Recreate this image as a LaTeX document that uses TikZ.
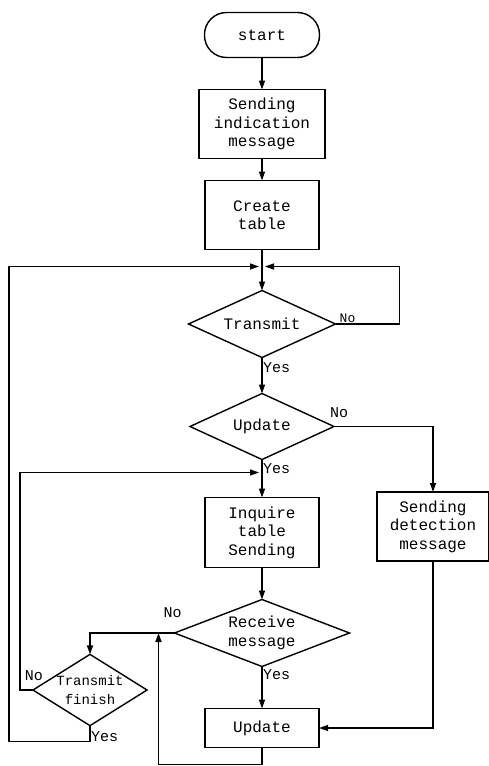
\documentclass[tikz,border=0pt]{standalone}
\usepackage{fontspec}
\setmonofont{Liberation Mono}
\usetikzlibrary{shapes.geometric, arrows.meta, positioning}
\tikzset{
	block/.style = {draw, rectangle, line width=1.4pt, outer sep=0pt, minimum width=114pt, minimum height=69pt, align=center, inner sep=1pt, font=\fontsize{16}{18.5}\selectfont\ttfamily},
	term/.style = {block, rounded corners=22pt, minimum width=115pt, minimum height=45pt},
	decision/.style = {draw, diamond, aspect=2.2, line width=1.4pt, outer sep=0pt, inner sep=0pt, align=center, font=\fontsize{16}{18.5}\selectfont\ttfamily},
	arrow/.style = {-{Triangle[length=9pt,width=6pt]}, line width=1.4pt},
	lbl/.style = {inner sep=1pt, font=\fontsize{15}{15}\selectfont\ttfamily},
}

\begin{document}
\begin{tikzpicture}[node distance=32pt]
	\useasboundingbox (0,0) rectangle (489pt,-766pt);
	
	% Main column
	\node[term] (start) at (262pt,-35pt) {start};
	\node[block, below=32pt of start, minimum width=126pt] (ind) {Sending\\indication\\message};
	\node[block, below=22pt of ind] (create) {Create\\table};
	\node[decision, below=41pt of create, minimum width=147pt, minimum height=67pt] (trans) {Transmit};
	\node[decision, below=36pt of trans, minimum width=144pt, minimum height=66pt] (upd) {Update};
	\node[block, below=38pt of upd, minimum height=70pt] (inq) {Inquire\\table\\Sending};
	\node[decision, below=32pt of inq, minimum width=175pt, minimum height=67pt] (recv) {Receive\\message};
	\node[block, below=42pt of recv, minimum height=39pt] (updb) {Update};
	
	% Side branches
	\node[block, right=58pt of inq, yshift=6pt, minimum width=112pt] (det) {Sending\\detection\\message};
	\node[decision, aspect=1.6, minimum width=112pt, minimum height=67pt, font=\fontsize{14}{19}\selectfont\ttfamily] (tfin) at (90pt,-690pt) {Transmit\\finish};
	
	% Junctions
	\coordinate[below=17pt of create.south] (j1);
	\coordinate[below=13pt of upd.south] (j2);
	
	% Connections
	\draw[arrow] (start) -- (ind);
	\draw[arrow] (ind) -- (create);
	\draw[arrow] (create) -- (trans);
	\draw[arrow] (trans) -- (upd);
	\draw[arrow] (upd) -- (inq);
	\draw[arrow] (inq) -- (recv);
	\draw[arrow] (recv) -- (updb);
	\draw[arrow] (trans.east) -- ++(64pt,0) |- ([xshift=3pt]j1);
	\draw[arrow] (upd.east) -| (det.north);
	\draw[arrow] (det.south) |- (updb.east);
	\draw[arrow] (recv.west) -| (tfin.north);
	\draw[arrow] (updb.south) -- ++(0,-17pt) -| ([xshift=-16pt]recv.west);
	\draw[arrow] (tfin.west) -- ++(-13pt,0) |- ([xshift=-3pt]j2);
	\draw[arrow] (tfin.south) -- ++(0,-16pt) -| ([xshift=-253pt]j1) -- ([xshift=-3pt]j1);
	
	% Yes / No labels
	\node[lbl, anchor=south west, font=\fontsize{13}{13}\selectfont\ttfamily] (notr) at ([xshift=3pt]trans.east) {No};
	\node[lbl, anchor=west] (yestr) at ([yshift=-10pt]trans.south) {Yes};
	\node[lbl, anchor=south] (noupd) at ([xshift=5pt,yshift=8pt]upd.east) {No};
	\node[lbl, anchor=west] (yesupd) at ([yshift=-9pt]upd.south) {Yes};
	\node[lbl] (norecv) at ([xshift=-2pt,yshift=20pt]recv.west) {No};
	\node[lbl, anchor=west] (yesrecv) at ([yshift=-8pt]recv.south) {Yes};
	\node[lbl] (notfin) at ([xshift=1pt,yshift=14pt]tfin.west) {No};
	\node[lbl, anchor=west] (yestfin) at ([yshift=-11pt]tfin.south) {Yes};
	
\end{tikzpicture}
\end{document}
